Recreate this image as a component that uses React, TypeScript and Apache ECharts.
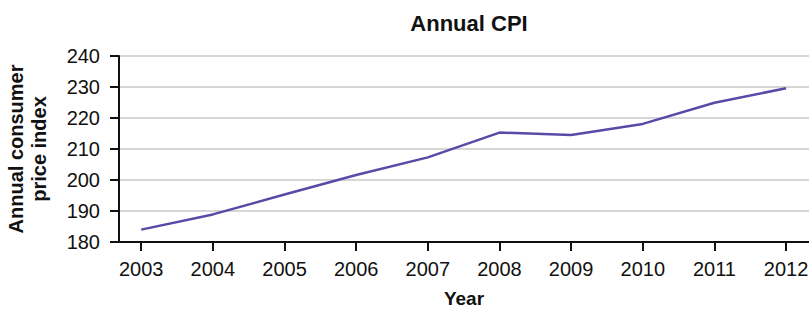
import React, { useEffect, useRef } from "react";
import * as echarts from "echarts";

const years = [2003, 2004, 2005, 2006, 2007, 2008, 2009, 2010, 2011, 2012];
const cpiValues = [184.0, 188.9, 195.3, 201.6, 207.3, 215.3, 214.5, 218.1, 224.9, 229.6];
const yTicks = [180, 190, 200, 210, 220, 230, 240];

const FONT = "'Liberation Sans', Arial, sans-serif";

export default function App() {
  const ref = useRef<HTMLDivElement>(null);
  useEffect(() => {
    if (!ref.current) return;
    const chart = echarts.init(ref.current, null, { renderer: "svg" });
    chart.setOption({
      animation: false,
      backgroundColor: "#ffffff",
      title: {
        text: "Annual CPI",
        left: 464,
        top: 7,
        textAlign: "center",
        textStyle: { fontFamily: FONT, fontSize: 22, fontWeight: "bold", color: "#111" },
      },
      grid: { left: 119, right: 0, top: 56, bottom: 72, containLabel: false, outerBoundsMode: "none" },
      xAxis: {
        type: "value",
        min: 2002.69,
        max: 2012.32,
        name: "Year",
        nameLocation: "middle",
        nameGap: 47,
        nameTextStyle: { fontFamily: FONT, fontSize: 19, fontWeight: "bold", color: "#111" },
        axisLine: { show: true, onZero: false, lineStyle: { color: "#111", width: 2 } },
        axisTick: { show: true, customValues: years, length: 9, lineStyle: { color: "#111", width: 2 } },
        axisLabel: {
          customValues: years,
          margin: 17,
          fontFamily: FONT,
          fontSize: 20,
          color: "#111",
          formatter: (v: number) => String(Math.round(v)),
        },
        splitLine: { show: false },
      },
      yAxis: {
        type: "value",
        min: yTicks[0],
        max: yTicks[yTicks.length - 1],
        interval: 10,
        name: "Annual consumer\nprice index",
        nameLocation: "middle",
        nameRotate: 90,
        nameGap: 69,
        nameTextStyle: { fontFamily: FONT, fontSize: 20, fontWeight: "bold", color: "#111", lineHeight: 23, align: "center" },
        axisLine: { show: true, lineStyle: { color: "#111", width: 2 } },
        axisTick: { show: true, length: 9, lineStyle: { color: "#111", width: 2 } },
        axisLabel: { margin: 19, fontFamily: FONT, fontSize: 20, color: "#111" },
        splitLine: { show: true, lineStyle: { color: "#c8c8c8", width: 1.5 } },
      },
      series: [
        {
          type: "line",
          data: years.map((y, i) => [y, cpiValues[i]]),
          showSymbol: false,
          lineStyle: { color: "#5a4aa8", width: 2.5 },
          itemStyle: { color: "#5a4aa8" },
        },
      ],
    });
    return () => chart.dispose();
  }, []);
  return (
    <div
      ref={ref}
      style={{ position: "fixed", left: 0, top: 0, width: 809, height: 314, background: "#fff" }}
    />
  );
}
